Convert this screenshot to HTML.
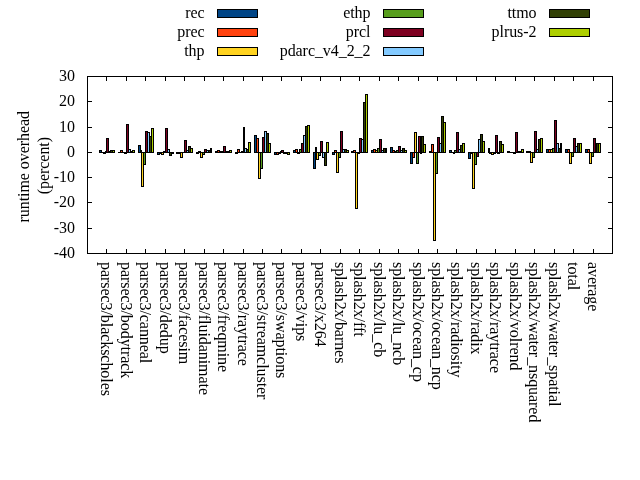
<!DOCTYPE html><html><head><meta charset="utf-8"><style>html,body{margin:0;padding:0;background:#fff;width:640px;height:480px;overflow:hidden}svg{display:block;will-change:transform}text{font-family:"Liberation Serif",serif;font-size:16px;fill:#000;letter-spacing:-0.06px}</style></head><body>
<svg width="640" height="480" viewBox="0 0 640 480">
<rect x="0" y="0" width="640" height="480" fill="#fff"/>
<g shape-rendering="crispEdges">
<g fill="#000">
<rect x="88" y="101" width="4" height="1"/>
<rect x="608" y="101" width="4" height="1"/>
<rect x="88" y="127" width="4" height="1"/>
<rect x="608" y="127" width="4" height="1"/>
<rect x="88" y="152" width="4" height="1"/>
<rect x="608" y="152" width="4" height="1"/>
<rect x="88" y="177" width="4" height="1"/>
<rect x="608" y="177" width="4" height="1"/>
<rect x="88" y="202" width="4" height="1"/>
<rect x="608" y="202" width="4" height="1"/>
<rect x="88" y="228" width="4" height="1"/>
<rect x="608" y="228" width="4" height="1"/>
<rect x="106" y="77" width="1" height="4"/>
<rect x="106" y="249" width="1" height="4"/>
<rect x="126" y="77" width="1" height="4"/>
<rect x="126" y="249" width="1" height="4"/>
<rect x="145" y="77" width="1" height="4"/>
<rect x="145" y="249" width="1" height="4"/>
<rect x="165" y="77" width="1" height="4"/>
<rect x="165" y="249" width="1" height="4"/>
<rect x="184" y="77" width="1" height="4"/>
<rect x="184" y="249" width="1" height="4"/>
<rect x="204" y="77" width="1" height="4"/>
<rect x="204" y="249" width="1" height="4"/>
<rect x="223" y="77" width="1" height="4"/>
<rect x="223" y="249" width="1" height="4"/>
<rect x="243" y="77" width="1" height="4"/>
<rect x="243" y="249" width="1" height="4"/>
<rect x="262" y="77" width="1" height="4"/>
<rect x="262" y="249" width="1" height="4"/>
<rect x="281" y="77" width="1" height="4"/>
<rect x="281" y="249" width="1" height="4"/>
<rect x="301" y="77" width="1" height="4"/>
<rect x="301" y="249" width="1" height="4"/>
<rect x="320" y="77" width="1" height="4"/>
<rect x="320" y="249" width="1" height="4"/>
<rect x="340" y="77" width="1" height="4"/>
<rect x="340" y="249" width="1" height="4"/>
<rect x="359" y="77" width="1" height="4"/>
<rect x="359" y="249" width="1" height="4"/>
<rect x="379" y="77" width="1" height="4"/>
<rect x="379" y="249" width="1" height="4"/>
<rect x="398" y="77" width="1" height="4"/>
<rect x="398" y="249" width="1" height="4"/>
<rect x="418" y="77" width="1" height="4"/>
<rect x="418" y="249" width="1" height="4"/>
<rect x="437" y="77" width="1" height="4"/>
<rect x="437" y="249" width="1" height="4"/>
<rect x="456" y="77" width="1" height="4"/>
<rect x="456" y="249" width="1" height="4"/>
<rect x="476" y="77" width="1" height="4"/>
<rect x="476" y="249" width="1" height="4"/>
<rect x="495" y="77" width="1" height="4"/>
<rect x="495" y="249" width="1" height="4"/>
<rect x="515" y="77" width="1" height="4"/>
<rect x="515" y="249" width="1" height="4"/>
<rect x="534" y="77" width="1" height="4"/>
<rect x="534" y="249" width="1" height="4"/>
<rect x="554" y="77" width="1" height="4"/>
<rect x="554" y="249" width="1" height="4"/>
<rect x="573" y="77" width="1" height="4"/>
<rect x="573" y="249" width="1" height="4"/>
<rect x="593" y="77" width="1" height="4"/>
<rect x="593" y="249" width="1" height="4"/>
</g>
<g>
<rect x="99" y="150" width="3" height="3" fill="#000"/>
<rect x="100" y="151" width="1" height="1" fill="#004586"/>
<rect x="101" y="152" width="3" height="1" fill="#000"/>
<rect x="103" y="152" width="3" height="2" fill="#000"/>
<rect x="105" y="151" width="2" height="2" fill="#000"/>
<rect x="106" y="138" width="3" height="15" fill="#000"/>
<rect x="107" y="139" width="1" height="13" fill="#7e0021"/>
<rect x="108" y="151" width="3" height="2" fill="#000"/>
<rect x="110" y="150" width="3" height="3" fill="#000"/>
<rect x="111" y="151" width="1" height="1" fill="#314004"/>
<rect x="112" y="150" width="3" height="3" fill="#000"/>
<rect x="113" y="151" width="1" height="1" fill="#aecf00"/>
<rect x="118" y="152" width="3" height="1" fill="#000"/>
<rect x="120" y="150" width="3" height="3" fill="#000"/>
<rect x="121" y="151" width="1" height="1" fill="#ff420e"/>
<rect x="122" y="152" width="3" height="1" fill="#000"/>
<rect x="124" y="152" width="3" height="2" fill="#000"/>
<rect x="126" y="124" width="3" height="29" fill="#000"/>
<rect x="127" y="125" width="1" height="27" fill="#7e0021"/>
<rect x="128" y="149" width="3" height="4" fill="#000"/>
<rect x="129" y="150" width="1" height="2" fill="#83caff"/>
<rect x="130" y="151" width="3" height="2" fill="#000"/>
<rect x="132" y="150" width="3" height="3" fill="#000"/>
<rect x="133" y="151" width="1" height="1" fill="#aecf00"/>
<rect x="138" y="145" width="3" height="8" fill="#000"/>
<rect x="139" y="146" width="1" height="6" fill="#004586"/>
<rect x="140" y="150" width="2" height="3" fill="#000"/>
<rect x="141" y="152" width="3" height="35" fill="#000"/>
<rect x="142" y="153" width="1" height="33" fill="#ffd320"/>
<rect x="143" y="152" width="3" height="13" fill="#000"/>
<rect x="144" y="153" width="1" height="11" fill="#579d1c"/>
<rect x="145" y="131" width="3" height="22" fill="#000"/>
<rect x="146" y="132" width="1" height="20" fill="#7e0021"/>
<rect x="147" y="132" width="3" height="21" fill="#000"/>
<rect x="148" y="133" width="1" height="19" fill="#83caff"/>
<rect x="149" y="136" width="3" height="17" fill="#000"/>
<rect x="150" y="137" width="1" height="15" fill="#314004"/>
<rect x="151" y="128" width="3" height="25" fill="#000"/>
<rect x="152" y="129" width="1" height="23" fill="#aecf00"/>
<rect x="157" y="152" width="3" height="3" fill="#000"/>
<rect x="158" y="153" width="1" height="1" fill="#004586"/>
<rect x="159" y="152" width="3" height="2" fill="#000"/>
<rect x="161" y="152" width="3" height="3" fill="#000"/>
<rect x="162" y="153" width="1" height="1" fill="#ffd320"/>
<rect x="163" y="151" width="3" height="2" fill="#000"/>
<rect x="165" y="128" width="3" height="25" fill="#000"/>
<rect x="166" y="129" width="1" height="23" fill="#7e0021"/>
<rect x="167" y="149" width="3" height="4" fill="#000"/>
<rect x="168" y="150" width="1" height="2" fill="#83caff"/>
<rect x="169" y="152" width="3" height="4" fill="#000"/>
<rect x="170" y="153" width="1" height="2" fill="#314004"/>
<rect x="171" y="152" width="3" height="2" fill="#000"/>
<rect x="176" y="152" width="3" height="2" fill="#000"/>
<rect x="178" y="152" width="3" height="2" fill="#000"/>
<rect x="180" y="152" width="3" height="6" fill="#000"/>
<rect x="181" y="153" width="1" height="4" fill="#ffd320"/>
<rect x="182" y="152" width="3" height="1" fill="#000"/>
<rect x="184" y="140" width="3" height="13" fill="#000"/>
<rect x="185" y="141" width="1" height="11" fill="#7e0021"/>
<rect x="186" y="150" width="3" height="3" fill="#000"/>
<rect x="187" y="151" width="1" height="1" fill="#83caff"/>
<rect x="188" y="146" width="3" height="7" fill="#000"/>
<rect x="189" y="147" width="1" height="5" fill="#314004"/>
<rect x="190" y="148" width="3" height="5" fill="#000"/>
<rect x="191" y="149" width="1" height="3" fill="#aecf00"/>
<rect x="196" y="152" width="3" height="2" fill="#000"/>
<rect x="198" y="151" width="3" height="2" fill="#000"/>
<rect x="200" y="152" width="3" height="6" fill="#000"/>
<rect x="201" y="153" width="1" height="4" fill="#ffd320"/>
<rect x="202" y="152" width="3" height="3" fill="#000"/>
<rect x="203" y="153" width="1" height="1" fill="#579d1c"/>
<rect x="204" y="149" width="3" height="4" fill="#000"/>
<rect x="205" y="150" width="1" height="2" fill="#7e0021"/>
<rect x="206" y="150" width="3" height="3" fill="#000"/>
<rect x="207" y="151" width="1" height="1" fill="#83caff"/>
<rect x="208" y="150" width="3" height="3" fill="#000"/>
<rect x="209" y="151" width="1" height="1" fill="#314004"/>
<rect x="210" y="148" width="2" height="5" fill="#000"/>
<rect x="215" y="151" width="3" height="2" fill="#000"/>
<rect x="217" y="150" width="3" height="3" fill="#000"/>
<rect x="218" y="151" width="1" height="1" fill="#ff420e"/>
<rect x="219" y="151" width="3" height="2" fill="#000"/>
<rect x="221" y="151" width="3" height="2" fill="#000"/>
<rect x="223" y="146" width="3" height="7" fill="#000"/>
<rect x="224" y="147" width="1" height="5" fill="#7e0021"/>
<rect x="225" y="151" width="3" height="2" fill="#000"/>
<rect x="227" y="151" width="3" height="2" fill="#000"/>
<rect x="229" y="150" width="3" height="3" fill="#000"/>
<rect x="230" y="151" width="1" height="1" fill="#aecf00"/>
<rect x="235" y="152" width="3" height="2" fill="#000"/>
<rect x="237" y="149" width="3" height="4" fill="#000"/>
<rect x="238" y="150" width="1" height="2" fill="#ff420e"/>
<rect x="239" y="152" width="3" height="1" fill="#000"/>
<rect x="241" y="151" width="3" height="2" fill="#000"/>
<rect x="243" y="127" width="2" height="26" fill="#000"/>
<rect x="244" y="148" width="3" height="5" fill="#000"/>
<rect x="245" y="149" width="1" height="3" fill="#83caff"/>
<rect x="246" y="149" width="3" height="4" fill="#000"/>
<rect x="247" y="150" width="1" height="2" fill="#314004"/>
<rect x="248" y="142" width="3" height="11" fill="#000"/>
<rect x="249" y="143" width="1" height="9" fill="#aecf00"/>
<rect x="254" y="135" width="3" height="18" fill="#000"/>
<rect x="255" y="136" width="1" height="16" fill="#004586"/>
<rect x="256" y="138" width="3" height="15" fill="#000"/>
<rect x="257" y="139" width="1" height="13" fill="#ff420e"/>
<rect x="258" y="152" width="3" height="27" fill="#000"/>
<rect x="259" y="153" width="1" height="25" fill="#ffd320"/>
<rect x="260" y="152" width="3" height="17" fill="#000"/>
<rect x="261" y="153" width="1" height="15" fill="#579d1c"/>
<rect x="262" y="137" width="3" height="16" fill="#000"/>
<rect x="263" y="138" width="1" height="14" fill="#7e0021"/>
<rect x="264" y="131" width="3" height="22" fill="#000"/>
<rect x="265" y="132" width="1" height="20" fill="#83caff"/>
<rect x="266" y="133" width="3" height="20" fill="#000"/>
<rect x="267" y="134" width="1" height="18" fill="#314004"/>
<rect x="268" y="143" width="3" height="10" fill="#000"/>
<rect x="269" y="144" width="1" height="8" fill="#aecf00"/>
<rect x="274" y="152" width="3" height="3" fill="#000"/>
<rect x="275" y="153" width="1" height="1" fill="#004586"/>
<rect x="276" y="152" width="3" height="3" fill="#000"/>
<rect x="277" y="153" width="1" height="1" fill="#ff420e"/>
<rect x="278" y="152" width="3" height="2" fill="#000"/>
<rect x="280" y="151" width="2" height="2" fill="#000"/>
<rect x="281" y="150" width="3" height="3" fill="#000"/>
<rect x="282" y="151" width="1" height="1" fill="#7e0021"/>
<rect x="283" y="152" width="3" height="2" fill="#000"/>
<rect x="285" y="152" width="3" height="2" fill="#000"/>
<rect x="287" y="152" width="3" height="3" fill="#000"/>
<rect x="288" y="153" width="1" height="1" fill="#aecf00"/>
<rect x="293" y="150" width="3" height="3" fill="#000"/>
<rect x="294" y="151" width="1" height="1" fill="#004586"/>
<rect x="295" y="149" width="3" height="4" fill="#000"/>
<rect x="296" y="150" width="1" height="2" fill="#ff420e"/>
<rect x="297" y="152" width="3" height="2" fill="#000"/>
<rect x="299" y="149" width="3" height="4" fill="#000"/>
<rect x="300" y="150" width="1" height="2" fill="#579d1c"/>
<rect x="301" y="143" width="3" height="10" fill="#000"/>
<rect x="302" y="144" width="1" height="8" fill="#7e0021"/>
<rect x="303" y="135" width="3" height="18" fill="#000"/>
<rect x="304" y="136" width="1" height="16" fill="#83caff"/>
<rect x="305" y="126" width="3" height="27" fill="#000"/>
<rect x="306" y="127" width="1" height="25" fill="#314004"/>
<rect x="307" y="125" width="3" height="28" fill="#000"/>
<rect x="308" y="126" width="1" height="26" fill="#aecf00"/>
<rect x="313" y="152" width="3" height="17" fill="#000"/>
<rect x="314" y="153" width="1" height="15" fill="#004586"/>
<rect x="315" y="147" width="2" height="6" fill="#000"/>
<rect x="316" y="152" width="3" height="8" fill="#000"/>
<rect x="317" y="153" width="1" height="6" fill="#ffd320"/>
<rect x="318" y="152" width="3" height="4" fill="#000"/>
<rect x="319" y="153" width="1" height="2" fill="#579d1c"/>
<rect x="320" y="141" width="3" height="12" fill="#000"/>
<rect x="321" y="142" width="1" height="10" fill="#7e0021"/>
<rect x="322" y="152" width="3" height="6" fill="#000"/>
<rect x="323" y="153" width="1" height="4" fill="#83caff"/>
<rect x="324" y="152" width="3" height="14" fill="#000"/>
<rect x="325" y="153" width="1" height="12" fill="#314004"/>
<rect x="326" y="142" width="3" height="11" fill="#000"/>
<rect x="327" y="143" width="1" height="9" fill="#aecf00"/>
<rect x="332" y="152" width="3" height="3" fill="#000"/>
<rect x="333" y="153" width="1" height="1" fill="#004586"/>
<rect x="334" y="150" width="3" height="3" fill="#000"/>
<rect x="335" y="151" width="1" height="1" fill="#ff420e"/>
<rect x="336" y="152" width="3" height="21" fill="#000"/>
<rect x="337" y="153" width="1" height="19" fill="#ffd320"/>
<rect x="338" y="152" width="3" height="6" fill="#000"/>
<rect x="339" y="153" width="1" height="4" fill="#579d1c"/>
<rect x="340" y="131" width="3" height="22" fill="#000"/>
<rect x="341" y="132" width="1" height="20" fill="#7e0021"/>
<rect x="342" y="149" width="3" height="4" fill="#000"/>
<rect x="343" y="150" width="1" height="2" fill="#83caff"/>
<rect x="344" y="149" width="3" height="4" fill="#000"/>
<rect x="345" y="150" width="1" height="2" fill="#314004"/>
<rect x="346" y="150" width="3" height="3" fill="#000"/>
<rect x="347" y="151" width="1" height="1" fill="#aecf00"/>
<rect x="351" y="151" width="3" height="2" fill="#000"/>
<rect x="353" y="150" width="3" height="3" fill="#000"/>
<rect x="354" y="151" width="1" height="1" fill="#ff420e"/>
<rect x="355" y="152" width="3" height="57" fill="#000"/>
<rect x="356" y="153" width="1" height="55" fill="#ffd320"/>
<rect x="357" y="152" width="3" height="2" fill="#000"/>
<rect x="359" y="138" width="3" height="15" fill="#000"/>
<rect x="360" y="139" width="1" height="13" fill="#7e0021"/>
<rect x="361" y="139" width="3" height="14" fill="#000"/>
<rect x="362" y="140" width="1" height="12" fill="#83caff"/>
<rect x="363" y="102" width="3" height="51" fill="#000"/>
<rect x="364" y="103" width="1" height="49" fill="#314004"/>
<rect x="365" y="94" width="3" height="59" fill="#000"/>
<rect x="366" y="95" width="1" height="57" fill="#aecf00"/>
<rect x="371" y="150" width="3" height="3" fill="#000"/>
<rect x="372" y="151" width="1" height="1" fill="#004586"/>
<rect x="373" y="149" width="3" height="4" fill="#000"/>
<rect x="374" y="150" width="1" height="2" fill="#ff420e"/>
<rect x="375" y="150" width="3" height="3" fill="#000"/>
<rect x="376" y="151" width="1" height="1" fill="#ffd320"/>
<rect x="377" y="148" width="3" height="5" fill="#000"/>
<rect x="378" y="149" width="1" height="3" fill="#579d1c"/>
<rect x="379" y="139" width="3" height="14" fill="#000"/>
<rect x="380" y="140" width="1" height="12" fill="#7e0021"/>
<rect x="381" y="150" width="3" height="3" fill="#000"/>
<rect x="382" y="151" width="1" height="1" fill="#83caff"/>
<rect x="383" y="148" width="3" height="5" fill="#000"/>
<rect x="384" y="149" width="1" height="3" fill="#314004"/>
<rect x="385" y="148" width="2" height="5" fill="#000"/>
<rect x="390" y="147" width="3" height="6" fill="#000"/>
<rect x="391" y="148" width="1" height="4" fill="#004586"/>
<rect x="392" y="150" width="3" height="3" fill="#000"/>
<rect x="393" y="151" width="1" height="1" fill="#ff420e"/>
<rect x="394" y="151" width="3" height="2" fill="#000"/>
<rect x="396" y="150" width="3" height="3" fill="#000"/>
<rect x="397" y="151" width="1" height="1" fill="#579d1c"/>
<rect x="398" y="146" width="3" height="7" fill="#000"/>
<rect x="399" y="147" width="1" height="5" fill="#7e0021"/>
<rect x="400" y="150" width="3" height="3" fill="#000"/>
<rect x="401" y="151" width="1" height="1" fill="#83caff"/>
<rect x="402" y="148" width="3" height="5" fill="#000"/>
<rect x="403" y="149" width="1" height="3" fill="#314004"/>
<rect x="404" y="150" width="3" height="3" fill="#000"/>
<rect x="405" y="151" width="1" height="1" fill="#aecf00"/>
<rect x="410" y="152" width="3" height="12" fill="#000"/>
<rect x="411" y="153" width="1" height="10" fill="#004586"/>
<rect x="412" y="152" width="3" height="6" fill="#000"/>
<rect x="413" y="153" width="1" height="4" fill="#ff420e"/>
<rect x="414" y="132" width="3" height="21" fill="#000"/>
<rect x="415" y="133" width="1" height="19" fill="#ffd320"/>
<rect x="416" y="152" width="3" height="12" fill="#000"/>
<rect x="417" y="153" width="1" height="10" fill="#579d1c"/>
<rect x="418" y="136" width="3" height="17" fill="#000"/>
<rect x="419" y="137" width="1" height="15" fill="#7e0021"/>
<rect x="420" y="152" width="2" height="2" fill="#000"/>
<rect x="421" y="136" width="3" height="17" fill="#000"/>
<rect x="422" y="137" width="1" height="15" fill="#314004"/>
<rect x="423" y="144" width="3" height="9" fill="#000"/>
<rect x="424" y="145" width="1" height="7" fill="#aecf00"/>
<rect x="429" y="151" width="3" height="2" fill="#000"/>
<rect x="431" y="144" width="3" height="9" fill="#000"/>
<rect x="432" y="145" width="1" height="7" fill="#ff420e"/>
<rect x="433" y="152" width="3" height="89" fill="#000"/>
<rect x="434" y="153" width="1" height="87" fill="#ffd320"/>
<rect x="435" y="152" width="3" height="22" fill="#000"/>
<rect x="436" y="153" width="1" height="20" fill="#579d1c"/>
<rect x="437" y="137" width="3" height="16" fill="#000"/>
<rect x="438" y="138" width="1" height="14" fill="#7e0021"/>
<rect x="439" y="143" width="3" height="10" fill="#000"/>
<rect x="440" y="144" width="1" height="8" fill="#83caff"/>
<rect x="441" y="116" width="3" height="37" fill="#000"/>
<rect x="442" y="117" width="1" height="35" fill="#314004"/>
<rect x="443" y="122" width="3" height="31" fill="#000"/>
<rect x="444" y="123" width="1" height="29" fill="#aecf00"/>
<rect x="449" y="150" width="3" height="3" fill="#000"/>
<rect x="450" y="151" width="1" height="1" fill="#004586"/>
<rect x="451" y="152" width="3" height="1" fill="#000"/>
<rect x="453" y="152" width="2" height="2" fill="#000"/>
<rect x="454" y="150" width="3" height="3" fill="#000"/>
<rect x="455" y="151" width="1" height="1" fill="#579d1c"/>
<rect x="456" y="132" width="3" height="21" fill="#000"/>
<rect x="457" y="133" width="1" height="19" fill="#7e0021"/>
<rect x="458" y="149" width="3" height="4" fill="#000"/>
<rect x="459" y="150" width="1" height="2" fill="#83caff"/>
<rect x="460" y="145" width="3" height="8" fill="#000"/>
<rect x="461" y="146" width="1" height="6" fill="#314004"/>
<rect x="462" y="143" width="3" height="10" fill="#000"/>
<rect x="463" y="144" width="1" height="8" fill="#aecf00"/>
<rect x="468" y="152" width="3" height="7" fill="#000"/>
<rect x="469" y="153" width="1" height="5" fill="#004586"/>
<rect x="470" y="152" width="3" height="2" fill="#000"/>
<rect x="472" y="152" width="3" height="37" fill="#000"/>
<rect x="473" y="153" width="1" height="35" fill="#ffd320"/>
<rect x="474" y="152" width="3" height="13" fill="#000"/>
<rect x="475" y="153" width="1" height="11" fill="#579d1c"/>
<rect x="476" y="152" width="3" height="5" fill="#000"/>
<rect x="477" y="153" width="1" height="3" fill="#7e0021"/>
<rect x="478" y="139" width="3" height="14" fill="#000"/>
<rect x="479" y="140" width="1" height="12" fill="#83caff"/>
<rect x="480" y="134" width="3" height="19" fill="#000"/>
<rect x="481" y="135" width="1" height="17" fill="#314004"/>
<rect x="482" y="141" width="3" height="12" fill="#000"/>
<rect x="483" y="142" width="1" height="10" fill="#aecf00"/>
<rect x="488" y="148" width="2" height="5" fill="#000"/>
<rect x="489" y="152" width="3" height="2" fill="#000"/>
<rect x="491" y="152" width="3" height="3" fill="#000"/>
<rect x="492" y="153" width="1" height="1" fill="#ffd320"/>
<rect x="493" y="152" width="3" height="2" fill="#000"/>
<rect x="495" y="135" width="3" height="18" fill="#000"/>
<rect x="496" y="136" width="1" height="16" fill="#7e0021"/>
<rect x="497" y="152" width="3" height="2" fill="#000"/>
<rect x="499" y="141" width="3" height="12" fill="#000"/>
<rect x="500" y="142" width="1" height="10" fill="#314004"/>
<rect x="501" y="144" width="3" height="9" fill="#000"/>
<rect x="502" y="145" width="1" height="7" fill="#aecf00"/>
<rect x="507" y="151" width="3" height="2" fill="#000"/>
<rect x="509" y="152" width="3" height="1" fill="#000"/>
<rect x="511" y="152" width="3" height="1" fill="#000"/>
<rect x="513" y="152" width="3" height="2" fill="#000"/>
<rect x="515" y="132" width="3" height="21" fill="#000"/>
<rect x="516" y="133" width="1" height="19" fill="#7e0021"/>
<rect x="517" y="151" width="3" height="2" fill="#000"/>
<rect x="519" y="151" width="3" height="2" fill="#000"/>
<rect x="521" y="149" width="3" height="4" fill="#000"/>
<rect x="522" y="150" width="1" height="2" fill="#aecf00"/>
<rect x="526" y="151" width="3" height="2" fill="#000"/>
<rect x="528" y="151" width="3" height="2" fill="#000"/>
<rect x="530" y="152" width="3" height="11" fill="#000"/>
<rect x="531" y="153" width="1" height="9" fill="#ffd320"/>
<rect x="532" y="152" width="3" height="6" fill="#000"/>
<rect x="533" y="153" width="1" height="4" fill="#579d1c"/>
<rect x="534" y="131" width="3" height="22" fill="#000"/>
<rect x="535" y="132" width="1" height="20" fill="#7e0021"/>
<rect x="536" y="149" width="3" height="4" fill="#000"/>
<rect x="537" y="150" width="1" height="2" fill="#83caff"/>
<rect x="538" y="139" width="3" height="14" fill="#000"/>
<rect x="539" y="140" width="1" height="12" fill="#314004"/>
<rect x="540" y="138" width="3" height="15" fill="#000"/>
<rect x="541" y="139" width="1" height="13" fill="#aecf00"/>
<rect x="546" y="149" width="3" height="4" fill="#000"/>
<rect x="547" y="150" width="1" height="2" fill="#004586"/>
<rect x="548" y="149" width="3" height="4" fill="#000"/>
<rect x="549" y="150" width="1" height="2" fill="#ff420e"/>
<rect x="550" y="149" width="3" height="4" fill="#000"/>
<rect x="551" y="150" width="1" height="2" fill="#ffd320"/>
<rect x="552" y="148" width="3" height="5" fill="#000"/>
<rect x="553" y="149" width="1" height="3" fill="#579d1c"/>
<rect x="554" y="120" width="3" height="33" fill="#000"/>
<rect x="555" y="121" width="1" height="31" fill="#7e0021"/>
<rect x="556" y="143" width="3" height="10" fill="#000"/>
<rect x="557" y="144" width="1" height="8" fill="#83caff"/>
<rect x="558" y="148" width="3" height="5" fill="#000"/>
<rect x="559" y="149" width="1" height="3" fill="#314004"/>
<rect x="560" y="143" width="2" height="10" fill="#000"/>
<rect x="565" y="149" width="3" height="4" fill="#000"/>
<rect x="566" y="150" width="1" height="2" fill="#004586"/>
<rect x="567" y="149" width="3" height="4" fill="#000"/>
<rect x="568" y="150" width="1" height="2" fill="#ff420e"/>
<rect x="569" y="152" width="3" height="12" fill="#000"/>
<rect x="570" y="153" width="1" height="10" fill="#ffd320"/>
<rect x="571" y="152" width="3" height="5" fill="#000"/>
<rect x="572" y="153" width="1" height="3" fill="#579d1c"/>
<rect x="573" y="138" width="3" height="15" fill="#000"/>
<rect x="574" y="139" width="1" height="13" fill="#7e0021"/>
<rect x="575" y="146" width="3" height="7" fill="#000"/>
<rect x="576" y="147" width="1" height="5" fill="#83caff"/>
<rect x="577" y="143" width="3" height="10" fill="#000"/>
<rect x="578" y="144" width="1" height="8" fill="#314004"/>
<rect x="579" y="143" width="3" height="10" fill="#000"/>
<rect x="580" y="144" width="1" height="8" fill="#aecf00"/>
<rect x="585" y="149" width="3" height="4" fill="#000"/>
<rect x="586" y="150" width="1" height="2" fill="#004586"/>
<rect x="587" y="149" width="3" height="4" fill="#000"/>
<rect x="588" y="150" width="1" height="2" fill="#ff420e"/>
<rect x="589" y="152" width="3" height="12" fill="#000"/>
<rect x="590" y="153" width="1" height="10" fill="#ffd320"/>
<rect x="591" y="152" width="3" height="5" fill="#000"/>
<rect x="592" y="153" width="1" height="3" fill="#579d1c"/>
<rect x="593" y="138" width="3" height="15" fill="#000"/>
<rect x="594" y="139" width="1" height="13" fill="#7e0021"/>
<rect x="595" y="143" width="2" height="10" fill="#000"/>
<rect x="596" y="143" width="3" height="10" fill="#000"/>
<rect x="597" y="144" width="1" height="8" fill="#314004"/>
<rect x="598" y="143" width="3" height="10" fill="#000"/>
<rect x="599" y="144" width="1" height="8" fill="#aecf00"/>
</g>
<g fill="#000"><rect x="87" y="76" width="526" height="1"/><rect x="87" y="253" width="526" height="1"/><rect x="87" y="76" width="1" height="178"/><rect x="612" y="76" width="1" height="178"/></g>
<rect x="217.5" y="9.5" width="40" height="8" fill="#004586" stroke="#000"/>
<rect x="217.5" y="28.5" width="40" height="8" fill="#ff420e" stroke="#000"/>
<rect x="217.5" y="47.5" width="40" height="8" fill="#ffd320" stroke="#000"/>
<rect x="383.5" y="9.5" width="40" height="8" fill="#579d1c" stroke="#000"/>
<rect x="383.5" y="28.5" width="40" height="8" fill="#7e0021" stroke="#000"/>
<rect x="383.5" y="47.5" width="40" height="8" fill="#83caff" stroke="#000"/>
<rect x="549.5" y="9.5" width="40" height="8" fill="#314004" stroke="#000"/>
<rect x="549.5" y="28.5" width="40" height="8" fill="#aecf00" stroke="#000"/>
</g>
<text x="204.5" y="17.8" text-anchor="end">rec</text>
<text x="204.5" y="36.8" text-anchor="end">prec</text>
<text x="204.5" y="55.8" text-anchor="end">thp</text>
<text x="370.5" y="17.8" text-anchor="end">ethp</text>
<text x="370.5" y="36.8" text-anchor="end">prcl</text>
<text x="370.5" y="55.8" text-anchor="end">pdarc_v4_2_2</text>
<text x="536.5" y="17.8" text-anchor="end">ttmo</text>
<text x="536.5" y="36.8" text-anchor="end">plrus-2</text>
<text x="74.9" y="81.1" text-anchor="end">30</text>
<text x="74.9" y="106.1" text-anchor="end">20</text>
<text x="74.9" y="132.1" text-anchor="end">10</text>
<text x="74.9" y="157.1" text-anchor="end">0</text>
<text x="74.9" y="182.1" text-anchor="end">-10</text>
<text x="74.9" y="207.1" text-anchor="end">-20</text>
<text x="74.9" y="233.1" text-anchor="end">-30</text>
<text x="74.9" y="258.1" text-anchor="end">-40</text>
<text transform="translate(29.2,166.8) rotate(-90)" text-anchor="middle">runtime overhead</text>
<text transform="translate(48.6,165.6) rotate(-90)" text-anchor="middle">(percent)</text>
<text transform="translate(101,262) rotate(90)">parsec3/blackscholes</text>
<text transform="translate(121,262) rotate(90)">parsec3/bodytrack</text>
<text transform="translate(140,262) rotate(90)">parsec3/canneal</text>
<text transform="translate(160,262) rotate(90)">parsec3/dedup</text>
<text transform="translate(179,262) rotate(90)">parsec3/facesim</text>
<text transform="translate(199,262) rotate(90)">parsec3/fluidanimate</text>
<text transform="translate(218,262) rotate(90)">parsec3/freqmine</text>
<text transform="translate(238,262) rotate(90)">parsec3/raytrace</text>
<text transform="translate(257,262) rotate(90)">parsec3/streamcluster</text>
<text transform="translate(276,262) rotate(90)">parsec3/swaptions</text>
<text transform="translate(296,262) rotate(90)">parsec3/vips</text>
<text transform="translate(315,262) rotate(90)">parsec3/x264</text>
<text transform="translate(335,262) rotate(90)">splash2x/barnes</text>
<text transform="translate(354,262) rotate(90)">splash2x/fft</text>
<text transform="translate(374,262) rotate(90)">splash2x/lu_cb</text>
<text transform="translate(393,262) rotate(90)">splash2x/lu_ncb</text>
<text transform="translate(413,262) rotate(90)">splash2x/ocean_cp</text>
<text transform="translate(432,262) rotate(90)">splash2x/ocean_ncp</text>
<text transform="translate(451,262) rotate(90)">splash2x/radiosity</text>
<text transform="translate(471,262) rotate(90)">splash2x/radix</text>
<text transform="translate(490,262) rotate(90)">splash2x/raytrace</text>
<text transform="translate(510,262) rotate(90)">splash2x/volrend</text>
<text transform="translate(529,262) rotate(90)">splash2x/water_nsquared</text>
<text transform="translate(549,262) rotate(90)">splash2x/water_spatial</text>
<text transform="translate(568,262) rotate(90)">total</text>
<text transform="translate(588,262) rotate(90)">average</text>
</svg></body></html>
